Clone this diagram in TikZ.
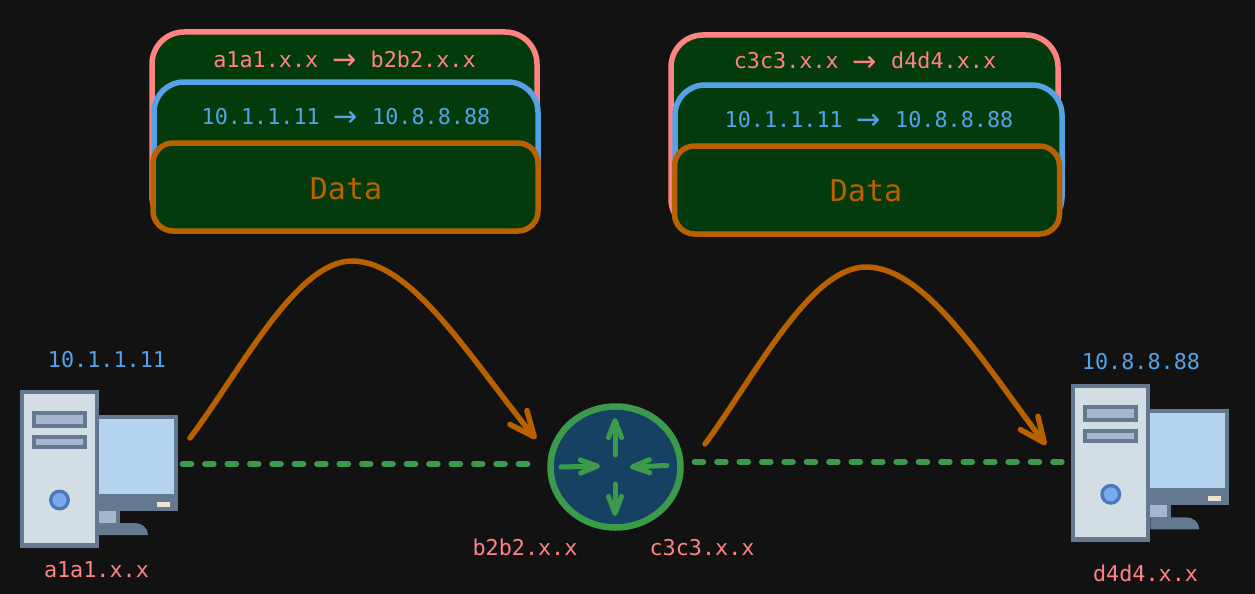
\documentclass[tikz,border=0pt]{standalone}
\usepackage{fontspec}
\setmainfont{DejaVu Sans Mono}
\newfontfamily\arrowfont{DejaVu Sans}
\usetikzlibrary{arrows.meta,shapes.geometric}
\definecolor{bg}{HTML}{121212}
\definecolor{pinkc}{HTML}{FF8383}
\definecolor{bluec}{HTML}{56A2E8}
\definecolor{orangec}{HTML}{B76100}
\definecolor{greenc}{HTML}{3B9B4B}
\definecolor{darkgreen}{HTML}{043B0C}
\definecolor{routerfill}{HTML}{154163}
\definecolor{slatec}{HTML}{64788F}
\definecolor{towerc}{HTML}{D3DDE4}
\definecolor{drivec}{HTML}{A6B6CE}
\definecolor{screenc}{HTML}{B3D3EE}
\definecolor{btnd}{HTML}{4A78BB}
\definecolor{btnl}{HTML}{78AAEC}
\definecolor{ledc}{HTML}{EFE3CB}
\newcommand{\smallfont}{\fontsize{21.8}{24}\selectfont}
\newcommand{\arr}{\makebox[52.4pt][c]{\raisebox{-2.5pt}{\arrowfont\fontsize{29}{30}\selectfont →}}}
\tikzset{
  lbl/.style={inner sep=0pt,anchor=base,font=\smallfont},
  pinklbl/.style={lbl,text=pinkc},
  bluelbl/.style={lbl,text=bluec},
  datalbl/.style={inner sep=0pt,anchor=base,text=orangec,font=\fontsize{30}{34}\selectfont},
  packet/.style={draw=#1,fill=darkgreen,line width=5.5pt,rectangle,inner sep=0pt,outer sep=0pt},
  hop/.style={draw=orangec,line width=5.5pt,line cap=round,line join=round,-{Straight Barb[length=25pt,width=22pt,round]}},
  wire/.style={draw=greenc,line width=5.5pt,line cap=round,dash pattern=on 9pt off 13.4pt},
  rarrow/.style={draw=greenc,line width=5pt,line cap=round,line join=round,-{Straight Barb[length=17pt,width=13pt,round]}},
  hostbox/.style={inner sep=0pt,outer sep=0pt,rectangle},
  pc/.pic={
    \fill[slatec] (0,0) rectangle (79,158);
    \fill[towerc] (4,4) rectangle (75,153);
    \fill[slatec] (12,21) rectangle (67,38);
    \fill[drivec] (16,24.5) rectangle (63,34);
    \fill[slatec] (12,45) rectangle (67,59);
    \fill[drivec] (16,49) rectangle (63,54.5);
    \fill[btnd] (39.5,110) circle (10.5);
    \fill[btnl] (39.5,110) circle (7);
    \fill[slatec] (79,25) rectangle (158,121);
    \fill[screenc] (79,29) rectangle (154,104);
    \fill[ledc] (137,112) rectangle (150,117);
    \fill[slatec] (79,121) rectangle (100,134);
    \fill[drivec] (79,121) rectangle (96,133);
    \fill[slatec] (79,133) -- (115,133) .. controls (122,133) and (128,138) .. (128,145) -- (79,145) -- cycle;
  }
}
\begin{document}
\begin{tikzpicture}[x=1pt,y=-1pt]
\path[use as bounding box,fill=bg] (0,0) rectangle (1255,594);

% left packet
\node[packet=pinkc,rounded corners=32pt,minimum width=385pt,minimum height=196pt] (lpink) at (344.5,130) {};
\node[packet=bluec,rounded corners=30pt,minimum width=384pt,minimum height=142pt] (lblue) at (346,153) {};
\node[packet=orangec,rounded corners=20pt,minimum width=385pt,minimum height=88pt] (lorange) at (345.5,187) {};
\node[pinklbl] (ltext) at (344.5,67) {a1a1.x.x\arr b2b2.x.x};
\node[bluelbl] (lip) at (346,124) {10.1.1.11\arr 10.8.8.88};
\node[datalbl] (ldata) at (346,199) {Data};

% right packet
\node[packet=pinkc,rounded corners=32pt,minimum width=387pt,minimum height=196pt] (rpink) at (864.5,133) {};
\node[packet=bluec,rounded corners=30pt,minimum width=387pt,minimum height=142pt] (rblue) at (868.5,156) {};
\node[packet=orangec,rounded corners=20pt,minimum width=385pt,minimum height=88pt] (rorange) at (867,190) {};
\node[pinklbl] (rtext) at (865,69) {c3c3.x.x\arr d4d4.x.x};
\node[bluelbl] (rip) at (869,127) {10.1.1.11\arr 10.8.8.88};
\node[datalbl] (rdata) at (866,201) {Data};

% hosts
\pic at (20,390) {pc};
\pic at (1071.3,384.3) {pc};
\node[hostbox,minimum width=164pt,minimum height=158pt] (pcA) at (100.5,464) {};
\node[hostbox,minimum width=163pt,minimum height=158pt] (pcB) at (1147.5,462) {};

% router
\node[ellipse,draw=greenc,fill=routerfill,line width=6.5pt,minimum width=130pt,minimum height=121pt,inner sep=0pt,outer sep=0pt] (router) at (615.5,467) {};
\coordinate (upA) at (615,455); \coordinate (upB) at (615,418);
\coordinate (dnA) at (615,484); \coordinate (dnB) at (615,516);
\coordinate (rtA) at (561,467); \coordinate (rtB) at (600,466);
\coordinate (ltA) at (667,465.5); \coordinate (ltB) at (630,467);
\draw[rarrow] (upA) -- (upB);
\draw[rarrow] (dnA) -- (dnB);
\draw[rarrow] (rtA) -- (rtB);
\draw[rarrow] (ltA) -- (ltB);

% wires
\draw[wire,shorten >=15pt] (pcA.east) -- (router.west |- pcA.east);
\draw[wire,shorten <=14pt] (router.east |- pcB.west) -- (pcB.west);

% hops
\coordinate (h1s) at (190,438); \coordinate (h1t) at (536,439);
\coordinate (h2s) at (705,444); \coordinate (h2t) at (1046,445);
\draw[hop] (h1s) .. controls (240,372) and (296,261) .. (352,261) .. controls (412,261) and (470,358) .. (h1t);
\draw[hop] (h2s) .. controls (755,376) and (810,267) .. (866,267) .. controls (926,267) and (985,365) .. (h2t);

% labels
\node[bluelbl] (ipA) at (107,367) {10.1.1.11};
\node[pinklbl] (nameA) at (96.5,577) {a1a1.x.x};
\node[pinklbl] (nameB) at (525,555) {b2b2.x.x};
\node[pinklbl] (nameC) at (702,555) {c3c3.x.x};
\node[bluelbl] (ipD) at (1141,369) {10.8.8.88};
\node[pinklbl] (nameD) at (1145.5,581) {d4d4.x.x};
\end{tikzpicture}
\end{document}
